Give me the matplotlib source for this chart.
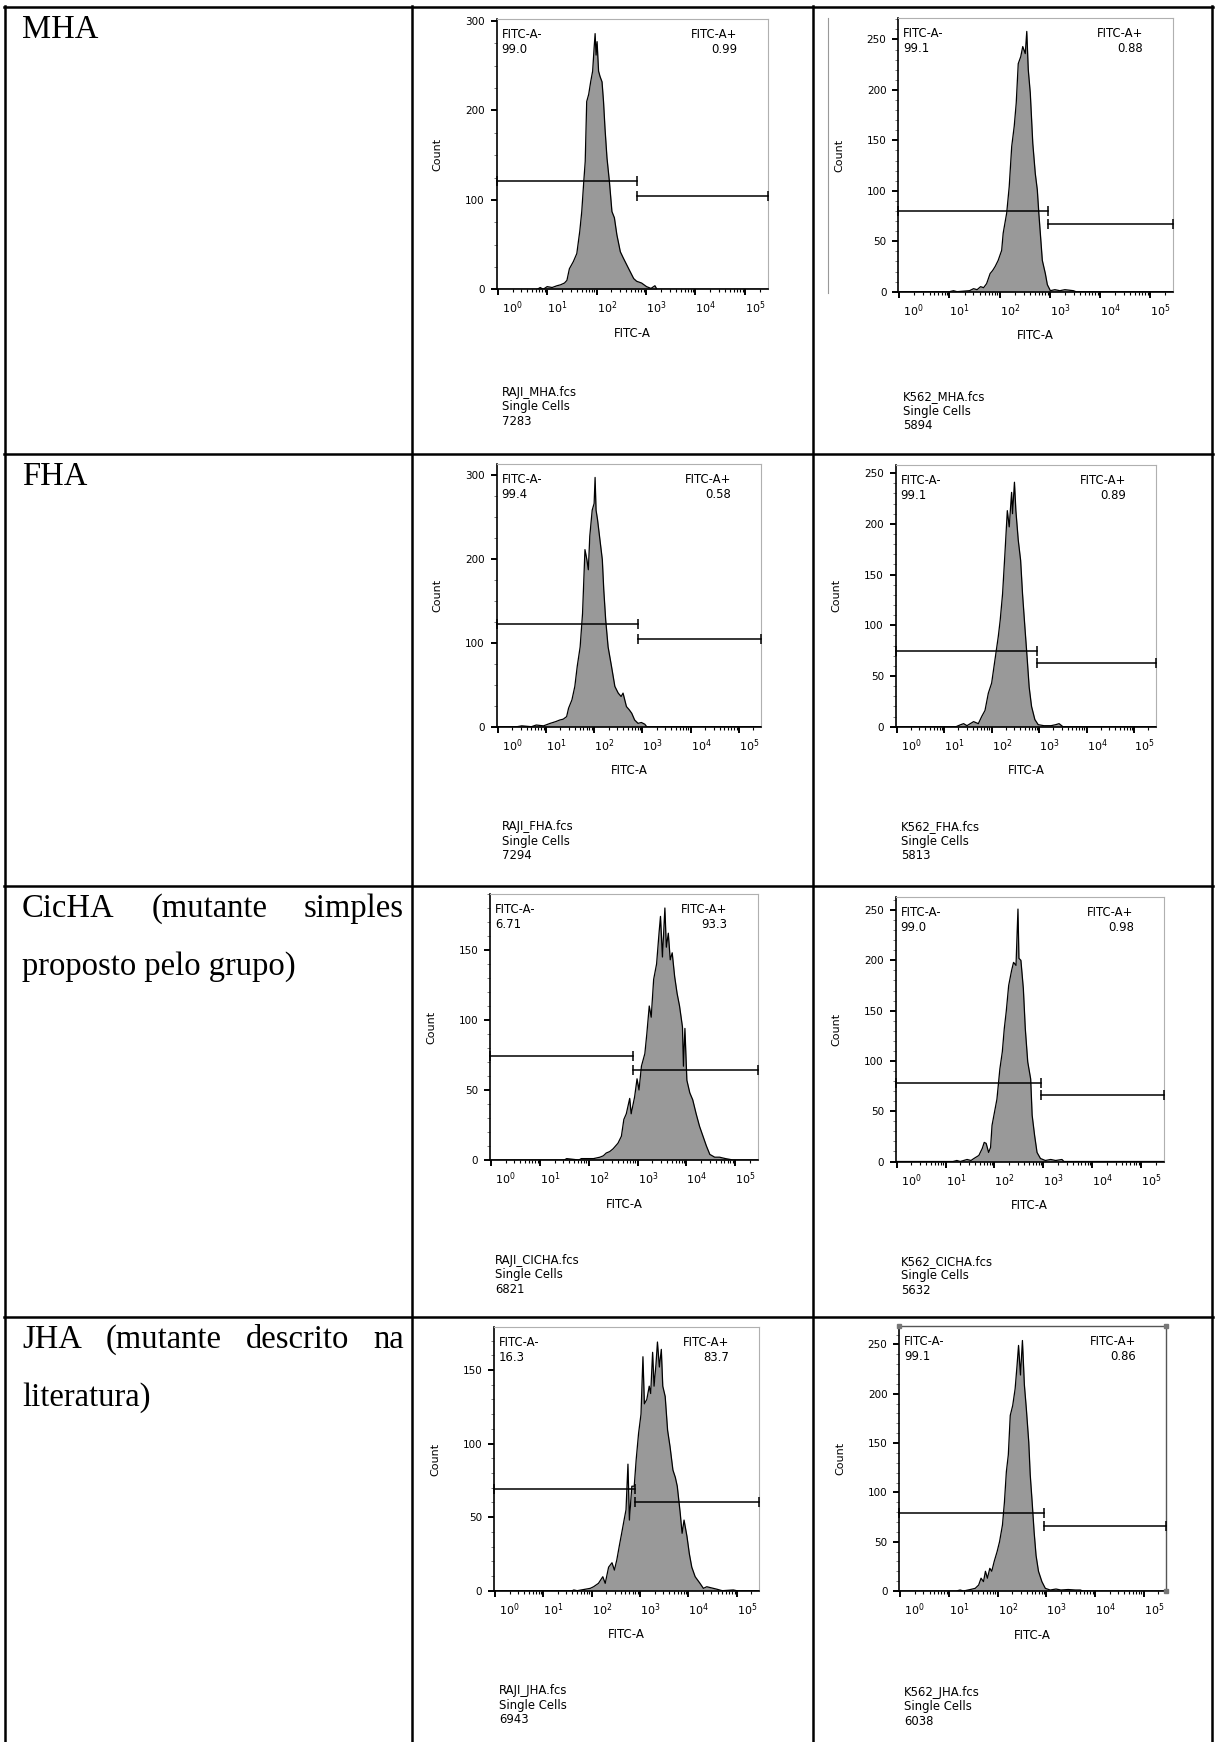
import matplotlib
matplotlib.use("Agg")
import matplotlib.pyplot as plt
from matplotlib.lines import Line2D
from matplotlib.ticker import MultipleLocator, LogLocator, NullFormatter, FixedLocator
import matplotlib.transforms as mtransforms

# ---- dados (expoente log10 de FITC-A, contagem) ----
raji_mha_dec = [0.0, 0.80, 0.86, 0.92, 1.00, 1.10, 1.20, 1.27, 1.35, 1.40, 1.45, 1.53, 1.60, 1.66, 1.70,
                1.74, 1.77, 1.80, 1.84, 1.88, 1.92, 1.95, 1.97, 1.99, 2.01, 2.04, 2.07, 2.11, 2.14, 2.17,
                2.21, 2.26, 2.31, 2.36, 2.41, 2.48, 2.54, 2.64, 2.75, 2.81, 2.91, 3.01, 3.10, 3.18, 3.22, 5.46]
raji_mha_cnt = [0, 0, 2, 0, 3, 2, 4, 5, 7, 10, 23, 31, 40, 65, 87,
                120, 143, 210, 218, 232, 244, 270, 286, 262, 277, 244, 238, 232, 210, 180,
                147, 120, 87, 80, 61, 42, 35, 24, 12, 9, 7, 3, 1, 4, 0, 0]

k562_mha_dec = [0.0, 1.00, 1.08, 1.15, 1.40, 1.48, 1.55, 1.62, 1.68, 1.74, 1.81, 1.86, 1.91, 1.97, 2.04,
                2.07, 2.14, 2.19, 2.24, 2.29, 2.33, 2.37, 2.42, 2.46, 2.51, 2.54, 2.57, 2.61, 2.66, 2.71,
                2.75, 2.78, 2.81, 2.85, 2.91, 2.95, 3.01, 3.10, 3.20, 3.30, 3.47, 3.52, 5.46]
k562_mha_cnt = [0, 0, 1, 0, 1, 3, 2, 5, 4, 8, 18, 21, 25, 31, 41,
                58, 78, 104, 144, 164, 187, 226, 233, 243, 236, 258, 220, 197, 147, 117,
                101, 78, 58, 31, 18, 7, 1, 2, 1, 2, 1, 0, 0]

raji_fha_dec = [0.0, 0.40, 0.50, 0.70, 0.80, 0.95, 1.09, 1.20, 1.29, 1.36, 1.43, 1.47, 1.54, 1.60, 1.65,
                1.71, 1.76, 1.81, 1.85, 1.88, 1.91, 1.96, 2.00, 2.02, 2.04, 2.07, 2.12, 2.17, 2.20, 2.24,
                2.29, 2.36, 2.43, 2.50, 2.56, 2.60, 2.67, 2.73, 2.78, 2.84, 2.91, 2.98, 3.05, 3.09, 5.46]
raji_fha_cnt = [0, 0, 1, 0, 2, 1, 4, 6, 8, 9, 12, 22, 32, 48, 72,
                95, 135, 211, 199, 187, 227, 258, 266, 297, 258, 247, 223, 199, 163, 127,
                95, 72, 48, 40, 36, 40, 24, 20, 16, 8, 4, 5, 3, 0, 0]

k562_fha_dec = [0.0, 1.25, 1.35, 1.41, 1.48, 1.55, 1.62, 1.72, 1.79, 1.86, 1.93, 2.00, 2.07, 2.14, 2.18,
                2.23, 2.28, 2.33, 2.37, 2.42, 2.44, 2.48, 2.51, 2.56, 2.61, 2.65, 2.70, 2.75, 2.79, 2.84,
                2.91, 2.98, 3.10, 3.25, 3.35, 3.42, 3.50, 5.46]
k562_fha_cnt = [0, 0, 2, 3, 1, 3, 5, 3, 10, 16, 33, 43, 66, 89, 105,
                131, 171, 213, 197, 231, 210, 241, 213, 184, 164, 131, 98, 66, 39, 20,
                7, 2, 1, 1, 2, 3, 0, 0]

raji_cicha_dec = [0.0, 1.50, 1.55, 1.80, 1.85, 2.10, 2.23, 2.30, 2.36, 2.43, 2.50, 2.60, 2.67, 2.72, 2.77,
                  2.84, 2.87, 2.94, 2.99, 3.03, 3.08, 3.15, 3.19, 3.24, 3.28, 3.33, 3.39, 3.44, 3.47, 3.51,
                  3.56, 3.59, 3.63, 3.67, 3.71, 3.76, 3.81, 3.86, 3.92, 3.94, 3.97, 4.01, 4.07, 4.13, 4.20,
                  4.27, 4.34, 4.41, 4.48, 4.58, 4.68, 4.80, 4.88, 4.95, 5.46]
raji_cicha_cnt = [0, 0, 1, 0, 1, 1, 2, 3, 5, 6, 8, 12, 17, 29, 33,
                  44, 33, 45, 58, 50, 67, 76, 90, 110, 102, 129, 140, 162, 174, 145,
                  180, 152, 162, 143, 148, 131, 119, 110, 95, 67, 94, 57, 48, 43, 33,
                  24, 17, 10, 4, 2, 2, 1, 0.5, 0, 0]

k562_cicha_dec = [0.0, 1.15, 1.23, 1.30, 1.44, 1.52, 1.58, 1.68, 1.75, 1.79, 1.83, 1.88, 1.92, 1.95, 2.00,
                  2.05, 2.11, 2.16, 2.20, 2.24, 2.29, 2.35, 2.39, 2.44, 2.48, 2.50, 2.54, 2.59, 2.63, 2.68,
                  2.74, 2.77, 2.82, 2.87, 2.94, 3.04, 3.15, 3.25, 3.38, 3.42, 5.46]
k562_cicha_cnt = [0, 0, 1, 0, 2, 1, 3, 6, 13, 19, 18, 9, 14, 36, 49,
                  62, 92, 109, 132, 149, 175, 190, 198, 195, 251, 202, 200, 172, 132, 99,
                  82, 46, 26, 9, 3, 1, 2, 1, 2, 0, 0]

raji_jha_dec = [0.0, 1.60, 1.63, 1.70, 1.97, 2.04, 2.14, 2.23, 2.28, 2.35, 2.42, 2.47, 2.52, 2.58, 2.62,
                2.67, 2.71, 2.75, 2.78, 2.83, 2.88, 2.92, 2.97, 3.02, 3.06, 3.09, 3.14, 3.19, 3.22, 3.26,
                3.29, 3.33, 3.36, 3.40, 3.44, 3.47, 3.52, 3.57, 3.62, 3.68, 3.73, 3.77, 3.83, 3.87, 3.91,
                3.97, 4.02, 4.07, 4.14, 4.24, 4.31, 4.38, 4.59, 4.70, 4.93, 5.00, 5.46]
raji_jha_cnt = [0, 0, 0.5, 0, 1.6, 2.7, 5, 9.5, 5, 16, 19, 14, 21, 32, 39,
                48, 55, 86, 48, 71, 71, 89, 107, 120, 159, 127, 130, 139, 134, 162,
                139, 154, 169, 152, 164, 139, 132, 109, 98, 82, 77, 71, 53, 39, 48,
                37, 25, 16, 9.5, 5, 1.6, 2.7, 1, 0, 0.5, 0, 0]

k562_jha_dec = [0.0, 1.15, 1.23, 1.30, 1.44, 1.54, 1.61, 1.66, 1.71, 1.75, 1.79, 1.84, 1.88, 1.93, 1.99,
                2.04, 2.10, 2.14, 2.18, 2.22, 2.26, 2.31, 2.36, 2.40, 2.43, 2.47, 2.51, 2.55, 2.59, 2.64,
                2.67, 2.71, 2.75, 2.79, 2.84, 2.91, 2.98, 3.08, 3.20, 3.30, 3.45, 3.60, 3.70, 3.75, 5.46]
k562_jha_cnt = [0, 0, 1, 0, 1.5, 2.7, 6, 13, 9.5, 20, 13, 23, 20, 30, 40,
                50, 67, 90, 121, 138, 178, 188, 205, 229, 249, 219, 254, 209, 185, 151,
                118, 90, 60, 36, 20, 9.5, 2.7, 1, 2, 1, 1.5, 1, 1, 0, 0]

samples = ["RAJI_MHA.fcs", "K562_MHA.fcs", "RAJI_FHA.fcs", "K562_FHA.fcs",
           "RAJI_CICHA.fcs", "K562_CICHA.fcs", "RAJI_JHA.fcs", "K562_JHA.fcs"]
events = [7283, 5894, 7294, 5813, 6821, 5632, 6943, 6038]
pct_neg = ["99.0", "99.1", "99.4", "99.1", "6.71", "99.0", "16.3", "99.1"]
pct_pos = ["0.99", "0.88", "0.58", "0.89", "93.3", "0.98", "83.7", "0.86"]
gate_thr = [2.81, 2.96, 2.91, 2.955, 2.91, 2.95, 2.90, 2.96]   # log10 do limite
gate_neg_y = [121, 80, 122, 74.5, 74, 78, 69, 79]
gate_pos_y = [104, 67, 105, 63, 64, 66, 60, 66]
y_max = [302, 271, 313, 258, 190, 263, 179, 269]
y_step = [100, 50, 100, 50, 50, 50, 50, 50]
y_minor = [25, 10, 25, 10, 10, 10, 10, 10]

hist_dec = [raji_mha_dec, k562_mha_dec, raji_fha_dec, k562_fha_dec,
            raji_cicha_dec, k562_cicha_dec, raji_jha_dec, k562_jha_dec]
hist_cnt = [raji_mha_cnt, k562_mha_cnt, raji_fha_cnt, k562_fha_cnt,
            raji_cicha_cnt, k562_cicha_cnt, raji_jha_cnt, k562_jha_cnt]

row_lines = [["MHA"],
             ["FHA"],
             ["CicHA (mutante simples", "proposto pelo grupo)"],
             ["JHA (mutante descrito na", "literatura)"]]

# ---- layout (pixels da imagem 1216x1742) ----
W, H = 1216, 1742
boxes = [(496.7, 19.3, 767.7, 289.3), (898.3, 18.3, 1173.3, 291.7),
         (496.7, 464.0, 761.0, 726.7), (895.7, 465.0, 1156.0, 726.7),
         (490.0, 894.0, 757.7, 1160.0), (895.7, 897.0, 1163.7, 1161.5),
         (494.0, 1327.3, 759.0, 1590.7), (899.3, 1325.7, 1166.0, 1591.0)]
name_off = [103, 105, 100, 100, 100, 100, 100, 101]
row_tops = [7, 454, 886, 1317]
XMIN, XMAX = -0.02, 5.46


def fx(x):
    return x / W


def fy(y):
    return 1 - y / H


fig = plt.figure(figsize=(W / 100, H / 100), dpi=100)
fig.patch.set_facecolor("white")

FLOW = dict(family="DejaVu Sans", color="black")

for i in range(8):
    l, t, r, b = boxes[i]
    ax = fig.add_axes([fx(l), fy(b), (r - l) / W, (b - t) / H])
    ax.set_xscale("log")
    ax.set_xlim(10 ** XMIN, 10 ** XMAX)
    ax.set_ylim(0, y_max[i])

    xs = [10 ** d for d in hist_dec[i]]
    ax.fill_between(xs, hist_cnt[i], 0, color="#999999", lw=0, zorder=2)
    ax.plot(xs, hist_cnt[i], color="black", lw=0.9, zorder=3)

    # gates
    thr = 10 ** gate_thr[i]
    ax.plot([10 ** XMIN, thr], [gate_neg_y[i]] * 2, color="black", lw=1.1,
            marker="|", ms=7, mew=1.1, clip_on=False, zorder=4)
    ax.plot([thr, 10 ** XMAX], [gate_pos_y[i]] * 2, color="black", lw=1.1,
            marker="|", ms=7, mew=1.1, clip_on=False, zorder=4)

    # eixos
    for s in ["top", "right"]:
        ax.spines[s].set_color("#b0b0b0")
        ax.spines[s].set_linewidth(0.8)
    for s in ["left", "bottom"]:
        ax.spines[s].set_color("black")
        ax.spines[s].set_linewidth(1.2)
    if i == 7:
        for s in ["top", "right"]:
            ax.spines[s].set_color("#555555")
            ax.spines[s].set_linewidth(1.0)
        ax.plot([0, 1, 1], [1, 1, 0], "s", ms=3, color="#777777",
                transform=ax.transAxes, clip_on=False, zorder=5)

    ax.xaxis.set_major_locator(FixedLocator([10 ** k for k in range(6)]))
    ax.set_xticklabels([rf"$10^{{{k}}}$" for k in range(6)])
    ax.xaxis.set_minor_locator(LogLocator(base=10, subs=range(2, 10), numticks=20))
    ax.xaxis.set_minor_formatter(NullFormatter())
    ax.yaxis.set_major_locator(MultipleLocator(y_step[i]))
    ax.yaxis.set_minor_locator(MultipleLocator(y_minor[i]))
    ax.tick_params(axis="x", which="major", direction="out", length=4, width=1.4,
                   pad=3.5, labelsize=8)
    ax.tick_params(axis="x", which="minor", direction="out", length=2.2, width=0.8)
    ax.tick_params(axis="y", which="major", direction="out", length=4.5, width=1.4,
                   pad=4, labelsize=7.5)
    ax.tick_params(axis="y", which="minor", direction="out", length=2.2, width=0.6,
                   color="#666666")
    off = mtransforms.ScaledTranslation(4 / 100, 0, fig.dpi_scale_trans)
    for k, lab in enumerate(ax.get_xticklabels()):
        lab.set_horizontalalignment("left")
        if k == 0:
            lab.set_transform(lab.get_transform() + off)
        lab.set_family("DejaVu Sans")
    for lab in ax.get_yticklabels():
        lab.set_family("DejaVu Sans")

    # textos do FlowJo
    fig.text(fx(l + 5), fy(t + 15.5), "FITC-A-", ha="left", va="center", fontsize=8.4, **FLOW)
    fig.text(fx(l + 5), fy(t + 30.5), pct_neg[i], ha="left", va="center", fontsize=8.4, **FLOW)
    fig.text(fx(r - 30), fy(t + 15.5), "FITC-A+", ha="right", va="center", fontsize=8.4, **FLOW)
    fig.text(fx(r - 30), fy(t + 30.5), pct_pos[i], ha="right", va="center", fontsize=8.4, **FLOW)
    fig.text(fx((l + r) / 2), fy(b + 44), "FITC-A", ha="center", va="center", fontsize=8.5, **FLOW)
    fig.text(fx(l - 59), fy((t + b) / 2), "Count", rotation=90, ha="center", va="center",
             fontsize=8, **FLOW)
    yb = b + name_off[i]
    for j, s in enumerate([samples[i], "Single Cells", str(events[i])]):
        fig.text(fx(l + 5), fy(yb + 14.5 * j), s, ha="left", va="center", fontsize=8.4, **FLOW)

# linha cinza extra ao lado do painel K562_MHA
fig.add_artist(Line2D([fx(828), fx(828)], [fy(18), fy(293)], color="#999999", lw=0.8,
                      transform=fig.transFigure))

# ---- grade da tabela ----
TLW = 1.8
for y in row_tops:
    fig.add_artist(Line2D([fx(4), fx(1213)], [fy(y), fy(y)], color="black", lw=TLW,
                          transform=fig.transFigure))
for x in [5, 411.5, 813, 1212]:
    fig.add_artist(Line2D([fx(x), fx(x)], [fy(6), fy(H)], color="black", lw=TLW,
                          transform=fig.transFigure))

# ---- coluna de rótulos (texto justificado) ----
SERIF = dict(family="Liberation Serif", fontsize=23.5, color="black")
renderer = fig.canvas.get_renderer()
X0, X1 = 22, 404
for r_i, lines in enumerate(row_lines):
    base = row_tops[r_i] + 31
    for li, line in enumerate(lines):
        yb = base + 58 * li
        last = li == len(lines) - 1
        if last:
            fig.text(fx(X0), fy(yb), line, ha="left", va="baseline", **SERIF)
            continue
        words = line.split()
        txts = [fig.text(0, fy(yb), w, ha="left", va="baseline", **SERIF) for w in words]
        widths = [t.get_window_extent(renderer).width for t in txts]
        gap = (X1 - X0 - sum(widths)) / (len(words) - 1)
        x = X0
        for t, w in zip(txts, widths):
            t.set_x(fx(x))
            x += w + gap

fig.savefig("out.png", dpi=100, facecolor="white")
